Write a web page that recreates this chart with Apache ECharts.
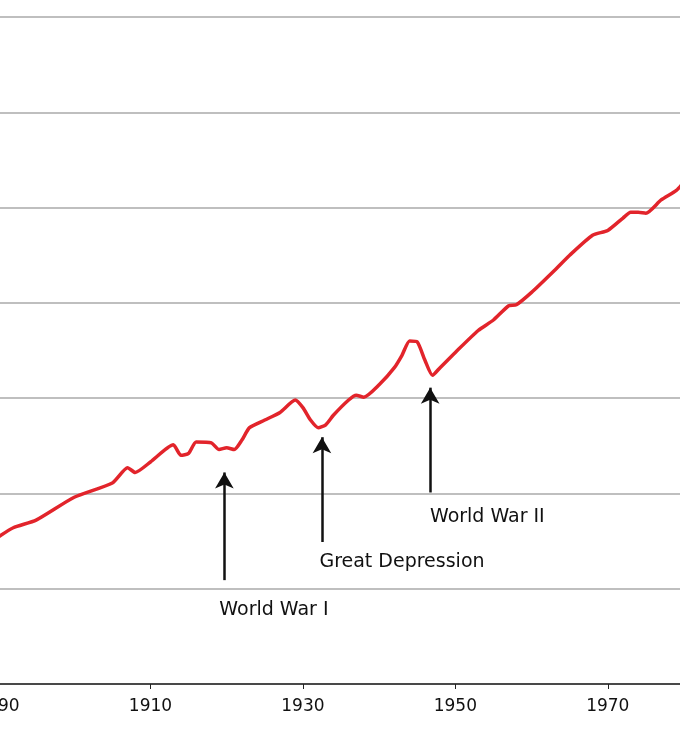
<!DOCTYPE html>
<html><head><meta charset="utf-8">
<script src="https://cdn.jsdelivr.net/npm/echarts@6/dist/echarts.min.js"></script>
<style>html,body{margin:0;padding:0;background:#fff}#c{width:680px;height:740px}</style>
</head><body><div id="c"></div>
<script>
const years=[1890,1892,1895,1900,1905,1907,1908,1910,1913,1914,1915,1916,1918,1919,1920,1921,1922,1923,1925,1927,1929,1930,1931,1932,1933,1934,1936,1937,1938,1940,1942,1943,1944,1945,1946,1947,1948,1950,1953,1955,1957,1958,1960,1963,1965,1968,1970,1972,1973,1974,1975,1977,1979,1980];
const values=[1.54,1.64,1.72,1.96,2.11,2.27,2.22,2.33,2.51,2.40,2.42,2.54,2.53,2.46,2.48,2.46,2.56,2.69,2.77,2.85,2.98,2.90,2.77,2.69,2.72,2.82,2.98,3.03,3.01,3.14,3.32,3.45,3.60,3.59,3.40,3.24,3.32,3.48,3.71,3.82,3.97,3.98,4.11,4.34,4.50,4.71,4.76,4.89,4.95,4.95,4.94,5.08,5.18,5.27];
const eventNames=['World War I','Great Depression','World War II'];
const arrowYears=[1919.7,1932.5,1946.7];
const arrowFrom=[1.09,1.49,2.01];
const arrowTo=[2.22,2.59,3.11];
const labelYears=[1926.2,1943.0,1954.2];
const labelValues=[0.78,1.28,1.75];
const xTicks=[1890,1910,1930,1950,1970];
const font='"DejaVu Sans", sans-serif';
const chart=echarts.init(document.getElementById('c'));
chart.setOption({
  animation:false,
  grid:{left:-2,right:-4,top:17,bottom:56,containLabel:false,outerBoundsMode:'none'},
  xAxis:{type:'value',min:1890,max:1980,interval:20,
    axisLine:{lineStyle:{color:'#222',width:1.5}},axisTick:{show:true,length:5,lineStyle:{color:'#222'}},
    axisLabel:{color:'#111',fontSize:17,fontFamily:font,margin:14,formatter:v=>xTicks.includes(v)?String(v):''},
    splitLine:{show:false}},
  yAxis:{type:'value',min:0,max:7,interval:1,axisLabel:{show:false},axisLine:{show:false},axisTick:{show:false},
    splitLine:{lineStyle:{color:'#aaa',width:1.5}}},
  series:[
    {type:'line',data:years.map((y,i)=>[y,values[i]]),showSymbol:false,smooth:0.2,
     lineStyle:{color:'#e2242b',width:3.5},z:3,
     markLine:{silent:true,symbol:['none','arrow'],symbolSize:[14,16],label:{show:false},
       lineStyle:{color:'#111',width:2.5,type:'solid'},
       data:arrowYears.map((y,i)=>[{coord:[y,arrowFrom[i]]},{coord:[y,arrowTo[i]]}])}},
    {type:'scatter',symbolSize:0,itemStyle:{opacity:1},data:labelYears.map((y,i)=>({value:[y,labelValues[i]],name:eventNames[i]})),
     label:{show:true,position:'inside',formatter:p=>p.name,color:'#111',fontSize:19,fontFamily:font}}
  ]
});
</script></body></html>
